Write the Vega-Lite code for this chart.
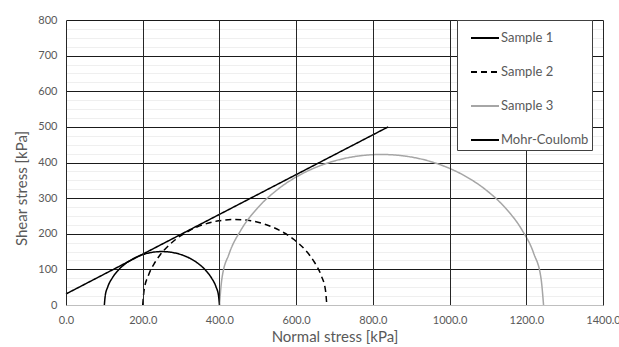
{
  "$schema": "https://vega.github.io/schema/vega-lite/v6.json",
  "autosize": "none",
  "width": 537,
  "height": 285,
  "padding": {"left": 66, "top": 20, "right": 16, "bottom": 42},
  "background": "white",
  "config": {
    "view": {"stroke": null},
    "font": "Lato",
    "axis": {"labelFont": "Lato", "titleFont": "Lato", "labelColor": "#595959", "titleColor": "#595959", "titleFontWeight": "normal", "labelFontSize": 11, "titleFontSize": 15, "ticks": false}
  },
  "data": {"values": [
    {"series": "Sample 1", "sigma": 100, "tau": 0},
    {"series": "Sample 1", "sigma": 102.3, "tau": 26.0},
    {"series": "Sample 1", "sigma": 109.0, "tau": 51.3},
    {"series": "Sample 1", "sigma": 120.1, "tau": 75.0},
    {"series": "Sample 1", "sigma": 135.1, "tau": 96.4},
    {"series": "Sample 1", "sigma": 153.6, "tau": 114.9},
    {"series": "Sample 1", "sigma": 175.0, "tau": 129.9},
    {"series": "Sample 1", "sigma": 198.7, "tau": 141.0},
    {"series": "Sample 1", "sigma": 224.0, "tau": 147.7},
    {"series": "Sample 1", "sigma": 250.0, "tau": 150.0},
    {"series": "Sample 1", "sigma": 276.0, "tau": 147.7},
    {"series": "Sample 1", "sigma": 301.3, "tau": 141.0},
    {"series": "Sample 1", "sigma": 325.0, "tau": 129.9},
    {"series": "Sample 1", "sigma": 346.4, "tau": 114.9},
    {"series": "Sample 1", "sigma": 364.9, "tau": 96.4},
    {"series": "Sample 1", "sigma": 379.9, "tau": 75.0},
    {"series": "Sample 1", "sigma": 391.0, "tau": 51.3},
    {"series": "Sample 1", "sigma": 397.7, "tau": 26.0},
    {"series": "Sample 1", "sigma": 400, "tau": 0},
    {"series": "Sample 2", "sigma": 200, "tau": 0},
    {"series": "Sample 2", "sigma": 203.6, "tau": 41.7},
    {"series": "Sample 2", "sigma": 214.5, "tau": 82.1},
    {"series": "Sample 2", "sigma": 232.2, "tau": 120.0},
    {"series": "Sample 2", "sigma": 256.2, "tau": 154.3},
    {"series": "Sample 2", "sigma": 285.7, "tau": 183.8},
    {"series": "Sample 2", "sigma": 320.0, "tau": 207.8},
    {"series": "Sample 2", "sigma": 357.9, "tau": 225.5},
    {"series": "Sample 2", "sigma": 398.3, "tau": 236.4},
    {"series": "Sample 2", "sigma": 440.0, "tau": 240.0},
    {"series": "Sample 2", "sigma": 481.7, "tau": 236.4},
    {"series": "Sample 2", "sigma": 522.1, "tau": 225.5},
    {"series": "Sample 2", "sigma": 560.0, "tau": 207.8},
    {"series": "Sample 2", "sigma": 594.3, "tau": 183.8},
    {"series": "Sample 2", "sigma": 623.8, "tau": 154.3},
    {"series": "Sample 2", "sigma": 647.8, "tau": 120.0},
    {"series": "Sample 2", "sigma": 665.5, "tau": 82.1},
    {"series": "Sample 2", "sigma": 676.4, "tau": 41.7},
    {"series": "Sample 2", "sigma": 680, "tau": 0},
    {"series": "Sample 3", "sigma": 400, "tau": 0},
    {"series": "Sample 3", "sigma": 406.4, "tau": 73.4},
    {"series": "Sample 3", "sigma": 425.5, "tau": 144.5},
    {"series": "Sample 3", "sigma": 456.6, "tau": 211.3},
    {"series": "Sample 3", "sigma": 498.9, "tau": 271.6},
    {"series": "Sample 3", "sigma": 550.9, "tau": 323.6},
    {"series": "Sample 3", "sigma": 611.3, "tau": 365.9},
    {"series": "Sample 3", "sigma": 678.0, "tau": 397.0},
    {"series": "Sample 3", "sigma": 749.1, "tau": 416.1},
    {"series": "Sample 3", "sigma": 822.5, "tau": 422.5},
    {"series": "Sample 3", "sigma": 895.9, "tau": 416.1},
    {"series": "Sample 3", "sigma": 967.0, "tau": 397.0},
    {"series": "Sample 3", "sigma": 1033.8, "tau": 365.9},
    {"series": "Sample 3", "sigma": 1094.1, "tau": 323.6},
    {"series": "Sample 3", "sigma": 1146.1, "tau": 271.6},
    {"series": "Sample 3", "sigma": 1188.4, "tau": 211.3},
    {"series": "Sample 3", "sigma": 1219.5, "tau": 144.5},
    {"series": "Sample 3", "sigma": 1238.6, "tau": 73.4},
    {"series": "Sample 3", "sigma": 1245, "tau": 0},
    {"series": "Mohr-Coulomb", "sigma": 0, "tau": 31},
    {"series": "Mohr-Coulomb", "sigma": 840, "tau": 500}
  ]},
  "layer": [
    {
      "mark": {"type": "line", "strokeOpacity": 0},
      "encoding": {
        "x": {"field": "sigma", "type": "quantitative", "scale": {"domain": [0, 1400], "nice": false},
          "axis": {"values": [0,200,400,600,800,1000,1200,1400], "format": ".1f", "grid": true, "gridColor": "#262626", "gridWidth": 1, "domainColor": "#bfbfbf", "labelFlush": false, "labelPadding": 9, "labelFontSize": 11, "title": "Normal stress [kPa]", "titleFontSize": 15, "titlePadding": 4, "zindex": 1}},
        "y": {"field": "tau", "type": "quantitative", "scale": {"domain": [0, 800], "nice": false},
          "axis": {"orient": "left", "values": [25,50,75,125,150,175,225,250,275,325,350,375,425,450,475,525,550,575,625,650,675,725,750,775], "grid": true, "gridColor": "#efefef", "gridWidth": 1, "labels": false, "domain": false, "title": null}},
        "detail": {"field": "series"}
      }
    },
    {
      "mark": {"type": "line", "strokeWidth": 1.5, "interpolate": "monotone"},
      "encoding": {
        "x": {"field": "sigma", "type": "quantitative", "scale": {"domain": [0, 1400], "nice": false},
          "axis": {"values": [0,200,400,600,800,1000,1200,1400], "format": ".1f", "grid": true, "gridColor": "#262626", "gridWidth": 1, "domainColor": "#bfbfbf", "labelFlush": false, "labelPadding": 9, "labelFontSize": 11, "title": "Normal stress [kPa]", "titleFontSize": 15, "titlePadding": 4, "zindex": 1}},
        "y": {"field": "tau", "type": "quantitative", "scale": {"domain": [0, 800], "nice": false},
          "axis": {"orient": "left", "values": [0,100,200,300,400,500,600,700,800], "grid": true, "gridColor": "#1a1a1a", "gridWidth": 1, "domainColor": "#bfbfbf", "labelPadding": 9, "labelFontSize": 11, "title": "Shear stress [kPa]", "titleFontSize": 15, "titlePadding": 8, "titleY": 168}},
        "color": {"field": "series", "type": "nominal",
          "scale": {"domain": ["Sample 1", "Sample 2", "Sample 3", "Mohr-Coulomb"], "range": ["#000000", "#000000", "#a6a6a6", "#000000"]},
          "legend": {"title": null, "orient": "none", "legendX": 391, "legendY": 0, "symbolType": "stroke", "symbolSize": 784, "symbolStrokeWidth": 1.8, "symbolOffset": 10, "labelOffset": 1, "labelFont": "Lato", "labelFontSize": 13, "labelColor": "#595959", "rowPadding": 12, "padding": 3, "strokeColor": "#404040", "fillColor": "white", "zindex": 2}},
        "strokeDash": {"field": "series", "type": "nominal",
          "scale": {"domain": ["Sample 1", "Sample 2", "Sample 3", "Mohr-Coulomb"], "range": [[1, 0], [6, 4], [1, 0], [1, 0]]},
          "legend": {"title": null}}
      }
    }
  ],
  "resolve": {"axis": {"y": "independent"}}
}
